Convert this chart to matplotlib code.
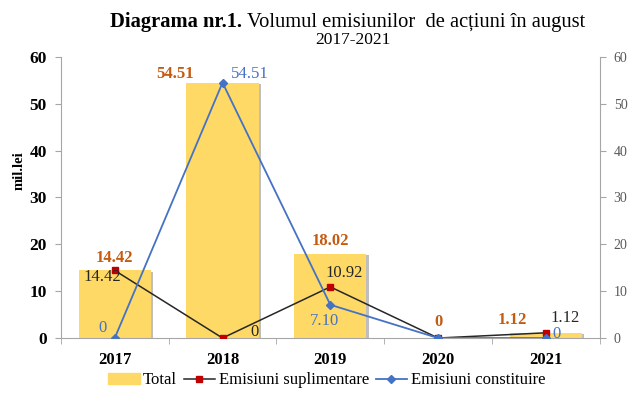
import numpy as np
import matplotlib.pyplot as plt
import matplotlib.patheffects as pe
from matplotlib.patches import Patch
from matplotlib.lines import Line2D

# date din diagrama
ani = ['2017', '2018', '2019', '2020', '2021']
total = [14.42, 54.51, 18.02, 0, 1.12]
suplimentare = [14.42, 0, 10.92, 0, 1.12]
constituire = [0, 54.51, 7.10, 0, 0]
lbl_total = ['14.42', '54.51', '18.02', '0', '1.12']
lbl_supl = ['14.42', '0', '10.92', '', '1.12']
lbl_const = ['0', '54.51', '7.10', '', '0']

plt.rcParams['font.family'] = ['Liberation Serif', 'DejaVu Serif']

gold = '#FFD966'
orange = '#C55A11'
red = '#C00000'
blue = '#4472C4'
gray = '#A6A6A6'
dark = '#262626'

fig = plt.figure(figsize=(6.34, 4.01), dpi=100)
ax = fig.add_axes([0.096, 0.157, 0.85, 0.701])
x = np.arange(len(ani))

bars = ax.bar(x, total, width=0.67, color=gold, zorder=2)
for b in bars:
    b.set_path_effects([pe.SimplePatchShadow(offset=(1.5, -1.0), shadow_rgbFace='#7F7F7F',
                                             alpha=0.5), pe.Normal()])

ax.plot(x, suplimentare, color=dark, lw=1.1, marker='s', ms=5,
        mfc=red, mec=red, zorder=3)
ax.plot(x, constituire, color=blue, lw=1.3, marker='D', ms=4.5,
        mfc=blue, mec=blue, zorder=4)

ax.set_xlim(-0.5, 4.5)
ax.set_ylim(0, 60)
ax.set_yticks(range(0, 61, 10))
ax.set_xticks(x)
ax.set_xticklabels(ani, fontsize=12, fontweight='bold')
ax.set_xticks(np.arange(-0.5, 5, 1), minor=True)
ax.tick_params(axis='x', which='major', length=0, pad=10)
ax.tick_params(axis='x', which='minor', length=4, color=gray)
ax.tick_params(axis='y', length=4, color=gray, labelsize=12.5, pad=6)
for t in ax.get_yticklabels():
    t.set_fontweight('bold')
ax.set_ylabel('mil.lei', fontsize=10.5, fontweight='bold')
ax.yaxis.set_label_coords(-0.066, 0.595)
for s in ['top', 'right']:
    ax.spines[s].set_visible(False)
for s in ['left', 'bottom']:
    ax.spines[s].set_color(gray)

ax2 = ax.twinx()
ax2.set_ylim(0, 60)
ax2.set_yticks(range(0, 61, 10))
ax2.tick_params(axis='y', length=4, color=gray, labelcolor='#595959', labelsize=10, pad=6)
for s in ['top', 'left', 'bottom']:
    ax2.spines[s].set_visible(False)
ax2.spines['right'].set_color(gray)

# etichete total
off_total = [(0, 9), (-34, 6), (0, 9), (0, 11.5), (-24, 9)]
for i in range(len(ani)):
    ax.annotate(lbl_total[i], (x[i], total[i]), xytext=off_total[i], textcoords='offset points',
                ha='center', va='center', color=orange, fontsize=12, fontweight='bold')

# etichete suplimentare
off_supl = [(-9, -5), (23, 4), (10, 10), (0, 0), (14, 11)]
for i in range(len(ani)):
    if lbl_supl[i]:
        ax.annotate(lbl_supl[i], (x[i], suplimentare[i]), xytext=off_supl[i],
                    textcoords='offset points', ha='center', va='center',
                    color=dark, fontsize=12)

# etichete constituire
off_const = [(-9, 7), (20, 6), (-4, -12), (0, 0), (8, 3)]
for i in range(len(ani)):
    if lbl_const[i]:
        ax.annotate(lbl_const[i], (x[i], constituire[i]), xytext=off_const[i],
                    textcoords='offset points', ha='center', va='center',
                    color=blue, fontsize=12)

# titlu: partea bold + restul normal, lipite
t1 = fig.text(110 / 634, 0.945, 'Diagrama nr.1.', fontsize=14.8, fontweight='bold',
              ha='left', va='center')
fig.canvas.draw()
bb = t1.get_window_extent()
fig.text((bb.x1 + 5) / 634, 0.945, 'Volumul emisiunilor  de acțiuni în august', fontsize=14.8,
         ha='left', va='center')
fig.text(0.556, 0.901, '2017-2021', fontsize=12.5, ha='center', va='center')

handles = [Patch(color=gold),
           Line2D([], [], color=dark, lw=1.1, marker='s', ms=5, mfc=red, mec=red),
           Line2D([], [], color=blue, lw=1.3, marker='D', ms=4.5, mfc=blue, mec=blue)]
labels = ['Total', 'Emisiuni suplimentare', 'Emisiuni constituire']
fig.legend(handles, labels, loc='center', bbox_to_anchor=(0.515, 0.052), ncol=3, frameon=False,
           fontsize=12, handlelength=1.9, handleheight=0.6, handletextpad=0.2,
           columnspacing=0.4)

plt.savefig('out.png', dpi=100)
plt.close()
